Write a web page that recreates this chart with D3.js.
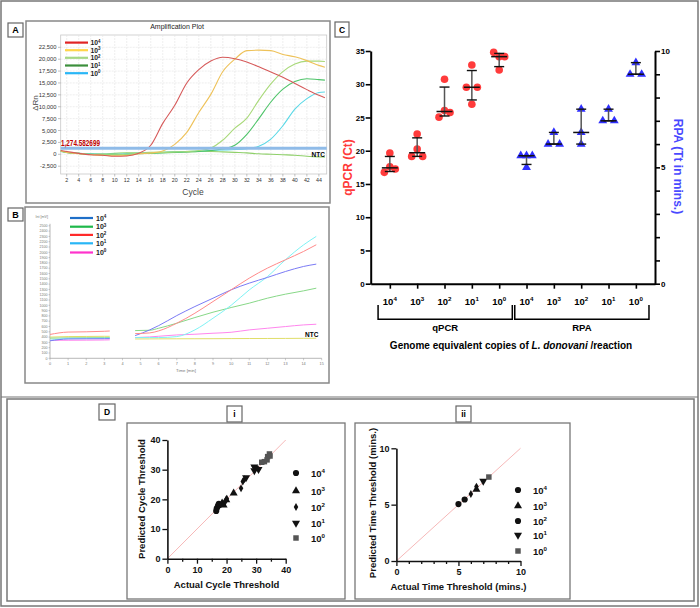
<!DOCTYPE html>
<html><head><meta charset="utf-8">
<script src="https://cdn.jsdelivr.net/npm/d3@7"></script>
<style>body{margin:0;background:#fff}svg{display:block}text{font-family:Arial,"Liberation Sans",sans-serif}</style>
</head><body><svg id="c" width="700" height="608"></svg>
<script>
// ---------- DATA ----------
// Panel A: amplification plot (ΔRn by cycle)
const ampCycles = [1,2,4,6,8,10,12,14,16,18,20,22,24,26,28,30,32,34,36,38,40,42,44,45];
const amp10e4 = [800,600,200,-100,-200,-400,-350,200,1900,6500,10300,15000,17800,19600,20400,20100,19400,18400,17300,16200,14900,13600,12400,11900];
const amp10e3 = [700,400,100,-100,-200,-300,-250,100,300,700,2100,4600,8800,12600,17400,20000,21800,21900,21800,21000,20500,19700,18700,18300];
const amp10e2 = [600,400,200,0,-100,-100,0,200,300,400,500,600,800,1300,3000,5500,7600,11400,14800,17400,19000,19600,19600,19500];
const amp10e1 = [700,400,200,0,-100,-100,0,100,200,300,400,500,600,800,1100,1900,4200,7500,11000,13700,15300,15900,15700,15600];
const amp10e0 = [600,400,200,100,0,0,100,200,300,400,500,600,700,800,900,1000,1200,1700,3200,6000,9500,11700,13000,13100];
const ampNTC  = [700,400,200,100,100,200,300,300,400,400,500,500,600,600,500,400,300,100,0,-100,-200,-400,-550,-600];
const ampThreshold = 1274.582699;
const ampYTicks = [-2500,0,2500,5000,7500,10000,12500,15000,17500,20000,22500];
const ampXTicks = [2,4,6,8,10,12,14,16,18,20,22,24,26,28,30,32,34,36,38,40,42,44];
const legendExps = ['4','3','2','1','0'];

// Panel B: RPA fluorescence (mV by minute); null = gap while tube is shaken
const rpaTimes   = [0,1,2,3,3.3,4,4.7,5.5,6,7,8,9,10,11,12,13,14,14.7];
const rpa10e4 = [330,365,368,370,372,null,428,535,617,806,977,1134,1292,1418,1525,1638,1733,1777];
const rpa10e3 = [380,385,388,390,392,null,523,529,567,662,769,870,958,1040,1134,1210,1273,1323];
const rpa10e2 = [450,495,500,510,515,null,466,479,517,662,851,1071,1292,1512,1701,1859,2016,2142];
const rpa10e1 = [340,375,378,380,382,null,391,391,391,410,536,756,1000,1290,1540,1860,2140,2300];
const rpa10e0 = [340,340,342,345,348,null,391,403,416,441,454,473,491,536,567,599,630,643];
const rpaNTC  = [400,410,412,415,415,null,365,366,367,368,369,370,372,373,374,375,377,378];

// Panel C: qPCR Ct and RPA Tt replicates per dilution
const copyExps = ['4','3','2','1','0'];
const methods = ['qPCR','RPA'];
const qpcrCt = [[16.75,19.65,17.6,17.25],[19.15,22.5,20.25,19.15],[25.05,30.75,26.05,25.75],[29.55,32.9,27.0,29.55],[34.8,34.15,32.15,34.15]];
const rpaTt  = [[5.5,5.5,5.5,5.0],[6.0,6.5,6.0],[7.5,6.5,6.0],[7.0,7.5,7.0],[9.0,9.5,9.0]];
const ctTicks = [0,5,10,15,20,25,30,35];

// Panel D i: actual vs predicted cycle threshold
const cycActual = [[16.5,16.7,17.1,17.4,17.6],[18.5,19.0,19.9,22.4],[19.6,20.1,24.9,25.5,26.1],[26.6,29.4,29.4,29.7,30.8],[31.9,32.8,33.7,33.9,34.5,34.7]];
const cycPred   = [[16.1,17.0,17.8,18.5,18.1],[18.7,18.0,19.8,22.1],[19.3,20.2,23.7,26.0,26.8],[27.3,31.0,29.7,30.5,30.1],[32.5,32.7,33.3,34.4,35.3,34.6]];
// Panel D ii: actual vs predicted time threshold
const ttActual = [[5.0,5.5],[6.45],[6.0,6.45],[7.0],[7.45]];
const ttPred   = [[5.05,5.46],[6.35],[5.95,6.6],[7.1],[7.45]];

// ---------- HELPERS ----------
const svg = d3.select('#c');
function pow(sel, x, y, exp, size, anchor, family, fill){
  const t = sel.append('text').attr('x',x).attr('y',y).attr('text-anchor',anchor||'middle')
    .attr('font-size',size).attr('font-weight','bold').attr('fill',fill||'#000');
  if(family) t.attr('font-family',family);
  t.append('tspan').text('10');
  t.append('tspan').attr('dy',-size*0.38).attr('font-size',size*0.65).text(exp);
  return t;
}
function box(x,y,w,h,stroke,sw){
  svg.append('rect').attr('x',x).attr('y',y).attr('width',w).attr('height',h)
    .attr('fill','none').attr('stroke',stroke||'#777').attr('stroke-width',sw||1.5);
}
function labelBox(x,y,w,h,t,size){
  svg.append('rect').attr('x',x).attr('y',y).attr('width',w).attr('height',h)
    .attr('fill','#fff').attr('stroke','#666').attr('stroke-width',1.2);
  svg.append('text').attr('x',x+w/2).attr('y',y+h/2).attr('dy','0.36em').attr('text-anchor','middle')
    .attr('font-size',size||9).attr('font-weight','bold').text(t);
}
function quant(arr,p){
  const s=[...arr].sort((a,b)=>a-b), n=s.length, pos=(n+1)*p;
  if(pos<=1) return s[0]; if(pos>=n) return s[n-1];
  const lo=Math.floor(pos); return s[lo-1]+(pos-lo)*(s[lo]-s[lo-1]);
}

// ---------- FRAMES ----------
box(1,1,697,605,'#777',1.5);
svg.append('line').attr('x1',1).attr('x2',698).attr('y1',397).attr('y2',397).attr('stroke','#777').attr('stroke-width',1.2);

// ---------- PANEL A ----------
box(26,21,304,182,'#888',1.5);
labelBox(8,23,15,14,'A',9);
const narrow = '"Liberation Sans Narrow","Arial Narrow",Arial,sans-serif';
const A = svg.append('g').attr('font-family',narrow);
const ax = d3.scaleLinear().domain([1,45.3]).range([60.7,326.7]);
const ay = d3.scaleLinear().domain([0,22500]).range([154.3,47.3]);
A.append('text').attr('x',177).attr('y',29).attr('text-anchor','middle').attr('font-size',7).attr('fill','#222').text('Amplification Plot');
A.append('rect').attr('x',60.7).attr('y',35).attr('width',266).attr('height',139).attr('fill','#fff').attr('stroke','#c8c8c8').attr('stroke-width',0.8);
A.selectAll('.vg').data(ampXTicks).join('line').attr('x1',d=>ax(d)).attr('x2',d=>ax(d)).attr('y1',35).attr('y2',174)
  .attr('stroke','#e2e2e2').attr('stroke-width',0.6).attr('stroke-dasharray','2,1');
A.selectAll('.hg').data(ampYTicks).join('line').attr('x1',60.7).attr('x2',326.7).attr('y1',d=>ay(d)).attr('y2',d=>ay(d))
  .attr('stroke','#e2e2e2').attr('stroke-width',0.6).attr('stroke-dasharray','2,1');
A.selectAll('.yt').data(ampYTicks).join('text').attr('x',56.5).attr('y',d=>ay(d)).attr('dy','0.35em').attr('text-anchor','end')
  .attr('font-size',5.8).attr('fill','#333').text(d=>(d<0?'-':'')+d3.format(',')(Math.abs(d)));
A.selectAll('.ytk').data(ampYTicks).join('line').attr('x1',58).attr('x2',60.7).attr('y1',d=>ay(d)).attr('y2',d=>ay(d)).attr('stroke','#999').attr('stroke-width',0.6);
A.selectAll('.xt').data(ampXTicks).join('text').attr('x',d=>ax(d)).attr('y',182).attr('text-anchor','middle')
  .attr('font-size',5.3).attr('fill','#333').text(d=>d);
A.selectAll('.xtk').data(ampXTicks).join('line').attr('x1',d=>ax(d)).attr('x2',d=>ax(d)).attr('y1',174).attr('y2',176.5).attr('stroke','#999').attr('stroke-width',0.6);
A.append('text').attr('x',193).attr('y',195).attr('text-anchor','middle').attr('font-size',8.5).attr('fill','#444').text('Cycle');
A.append('text').attr('transform','translate(38,103) rotate(-90)').attr('text-anchor','middle').attr('font-size',8).attr('fill','#444').text('ΔRn');
const ampLine = d3.line().x((d,i)=>ax(ampCycles[i])).y(d=>ay(d)).curve(d3.curveMonotoneX);
const ampSeries = [[ampNTC,'#8fd06a'],[amp10e0,'#5ad8e6'],[amp10e1,'#4fc46a'],[amp10e2,'#a9d97a'],[amp10e3,'#eec25a'],[amp10e4,'#d65a5a']];
ampSeries.forEach(([vals,col])=>A.append('path').attr('d',ampLine(vals)).attr('fill','none').attr('stroke',col).attr('stroke-width',1.1));
A.append('line').attr('x1',60.7).attr('x2',326.7).attr('y1',ay(ampThreshold)).attr('y2',ay(ampThreshold)).attr('stroke','#8fbbe8').attr('stroke-width',3);
A.append('text').attr('x',61).attr('y',ay(ampThreshold)-2.5).attr('font-family','"Liberation Serif","Times New Roman",serif')
  .attr('font-size',9).attr('font-weight','bold').attr('fill','#c00000').attr('textLength',39).attr('lengthAdjust','spacingAndGlyphs')
  .text(d3.format(',.6f')(ampThreshold));
A.append('text').attr('x',311.5).attr('y',156.5).attr('font-size',6.5).attr('font-weight','bold').attr('font-family','Arial,sans-serif').text('NTC');
const ampLegCols = ['#e02424','#ffd54a','#a6d785','#3c8f3c','#29b6f6'];
const ampLegY = [42.6,50.2,57.8,65.5,73.2];
legendExps.forEach((e,i)=>{
  A.append('line').attr('x1',65).attr('x2',88).attr('y1',ampLegY[i]).attr('y2',ampLegY[i]).attr('stroke',ampLegCols[i]).attr('stroke-width',2.2);
  pow(A,90.5,ampLegY[i]+2.6,e,6.8,'start','Arial,sans-serif','#222');
});

// ---------- PANEL B ----------
box(25,207,304,176,'#888',1.5);
labelBox(8,208,15,13,'B',9);
const B = svg.append('g');
const bx = d3.scaleLinear().domain([0,15]).range([50,321.7]);
const by = d3.scaleLinear().domain([0,2500]).range([358.3,225.8]);
B.append('line').attr('x1',50).attr('x2',50).attr('y1',by(0)).attr('y2',by(2500)-2).attr('stroke','#999').attr('stroke-width',0.7);
B.append('line').attr('x1',50).attr('x2',bx(15)).attr('y1',by(0)).attr('y2',by(0)).attr('stroke','#999').attr('stroke-width',0.7);
const bYT = d3.range(0,2501,100);
B.selectAll('.byt').data(bYT).join('line').attr('x1',48.5).attr('x2',50).attr('y1',d=>by(d)).attr('y2',d=>by(d)).attr('stroke','#999').attr('stroke-width',0.5);
B.selectAll('.byl').data(bYT).join('text').attr('x',47.5).attr('y',d=>by(d)).attr('dy','0.35em').attr('text-anchor','end')
  .attr('font-size',3.6).attr('fill','#777').text(d=>d);
const bXT = d3.range(0,16,1);
B.selectAll('.bxt').data(bXT).join('line').attr('x1',d=>bx(d)).attr('x2',d=>bx(d)).attr('y1',by(0)).attr('y2',by(0)+2).attr('stroke','#999').attr('stroke-width',0.5);
B.selectAll('.bxl').data(bXT).join('text').attr('x',d=>bx(d)).attr('y',365).attr('text-anchor','middle')
  .attr('font-size',3.8).attr('fill','#777').text(d=>d);
B.append('text').attr('x',186).attr('y',372).attr('text-anchor','middle').attr('font-size',4.3).attr('fill','#777').text('Time [min]');
B.append('text').attr('x',48).attr('y',218).attr('text-anchor','end').attr('font-size',3.6).attr('fill','#777').text('Int [mV]');
const rpaLine = d3.line().defined(d=>d!=null).x((d,i)=>bx(rpaTimes[i])).y(d=>by(d)).curve(d3.curveMonotoneX);
const rpaSeries = [[rpaNTC,'#e0de6a'],[rpa10e0,'#ff86ee'],[rpa10e3,'#88d888'],[rpa10e1,'#7ff3f5'],[rpa10e4,'#7b7bf5'],[rpa10e2,'#ff8a8a']];
rpaSeries.forEach(([vals,col])=>B.append('path').attr('d',rpaLine(vals)).attr('fill','none').attr('stroke',col).attr('stroke-width',1));
B.append('text').attr('x',305).attr('y',337).attr('font-size',6.5).attr('font-weight','bold').text('NTC');
const rpaLegCols = ['#1f6fc8','#1fb84a','#ff2a2a','#29b6f6','#ff33cc'];
const rpaLegY = [218,226.7,234.9,243.3,252.5];
legendExps.forEach((e,i)=>{
  B.append('line').attr('x1',70).attr('x2',93).attr('y1',rpaLegY[i]).attr('y2',rpaLegY[i]).attr('stroke',rpaLegCols[i]).attr('stroke-width',2.2);
  pow(B,96,rpaLegY[i]+2.6,e,7,'start','Arial,sans-serif','#222');
});

// ---------- PANEL C ----------
labelBox(335,22,14,15,'C',8.5);
const C = svg.append('g');
const keys = methods.flatMap(m=>copyExps.map(c=>m+c));
const cx = d3.scalePoint().domain(keys).range([370.7,655]).padding(0.7);
const yL = d3.scaleLinear().domain([0,35]).range([283.7,51]);
const yR = d3.scaleLinear().domain([0,10]).range([283.7,51]);
const axL = C.append('g').attr('transform','translate(370.7,0)').call(d3.axisLeft(yL).tickValues(ctTicks).tickSize(5).tickSizeOuter(0));
const axR = C.append('g').attr('transform','translate(655,0)').call(d3.axisRight(yR).tickValues(d3.range(0,11)).tickFormat(d=>d%5===0?d:'').tickSize(5).tickSizeOuter(0));
const axB = C.append('g').attr('transform','translate(0,283.7)').call(d3.axisBottom(cx).tickFormat('').tickSize(5).tickSizeOuter(0));
[axL,axR,axB].forEach(g=>{
  g.select('.domain').attr('stroke','#000').attr('stroke-width',2);
  g.selectAll('.tick line').attr('stroke','#000').attr('stroke-width',1.6);
  g.selectAll('.tick text').attr('font-size',8).attr('font-weight','bold').attr('fill','#000').attr('font-family','Arial,sans-serif');
});
axL.selectAll('.tick text').attr('x',-6);
axR.selectAll('.tick text').attr('x',6);
const lato = 'Lato,"Open Sans",Arial,sans-serif';
keys.forEach((k,i)=>pow(C,cx(k),305,copyExps[i%5],9.5,'middle',lato));
// brackets
methods.forEach((m,mi)=>{
  const x0 = cx(m+copyExps[0])-cx.step()*0.43, x1 = cx(m+copyExps[4])+cx.step()*0.48;
  C.append('path').attr('d',`M${x0},305V319.3H${x1}V305`).attr('fill','none').attr('stroke','#000').attr('stroke-width',1.5);
  C.append('text').attr('x',(x0+x1)/2).attr('y',331).attr('text-anchor','middle').attr('font-size',9.5).attr('font-weight','bold').attr('font-family',lato).text(m);
});
const gl = C.append('text').attr('x',511).attr('y',349).attr('text-anchor','middle').attr('font-size',10).attr('font-weight','bold').attr('font-family',lato);
gl.append('tspan').text('Genome equivalent copies of ');
gl.append('tspan').attr('font-style','italic').text('L. donovani');
gl.append('tspan').text(' /reaction');
C.append('text').attr('transform','translate(348,167.5) rotate(-90)').attr('text-anchor','middle').attr('dy','0.35em')
  .attr('font-size',12).attr('font-weight','bold').attr('fill','#ff3b3b').text('qPCR (Ct)');
C.append('text').attr('transform','translate(678,166.5) rotate(90)').attr('text-anchor','middle').attr('dy','0.35em')
  .attr('font-size',12).attr('font-weight','bold').attr('fill','#4a4aff').text('RPA (Tt in mins.)');
const qSlots = [-1,0,0,1];
const rSlots = [[-1,0,1,0],[-1,0,1],[0,0,0],[-1,0,1],[-1,0,1]];
const jit = 5.5;
function summary(vals, xc, yScale){
  const med=quant(vals,0.5), lo=quant(vals,0.25), hi=quant(vals,0.75);
  C.append('line').attr('x1',xc).attr('x2',xc).attr('y1',yScale(lo)).attr('y2',yScale(hi)).attr('stroke','#555').attr('stroke-width',1.5);
  [lo,hi].forEach(v=>C.append('line').attr('x1',xc-5).attr('x2',xc+5).attr('y1',yScale(v)).attr('y2',yScale(v)).attr('stroke','#111').attr('stroke-width',1.4));
  C.append('line').attr('x1',xc-8).attr('x2',xc+8).attr('y1',yScale(med)).attr('y2',yScale(med)).attr('stroke','#111').attr('stroke-width',1.5);
}
qpcrCt.forEach((vals,gi)=>{
  const xc = cx('qPCR'+copyExps[gi]);
  vals.forEach((v,j)=>C.append('circle').attr('cx',xc+qSlots[j]*jit).attr('cy',yL(v)).attr('r',3.8).attr('fill','#ff3b3b'));
  summary(vals,xc,yL);
});
const tri = d3.symbol().type(d3.symbolTriangle).size(34);
rpaTt.forEach((vals,gi)=>{
  const xc = cx('RPA'+copyExps[gi]);
  vals.forEach((v,j)=>C.append('path').attr('d',tri()).attr('transform',`translate(${xc+rSlots[gi][j]*jit*1.05},${yR(v)})`).attr('fill','#2f2fff'));
  summary(vals,xc,yR);
});

// ---------- PANEL D ----------
box(7,399,687,202,'#777',1.5);
labelBox(99,404,16,16,'D',8.5);
labelBox(227,406,15,16,'i',8.5);
labelBox(456,406,15,16,'ii',8.5);
box(127,423,218,176,'#777',1.3);
box(355,423,215,176,'#777',1.3);
const symTypes = [d3.symbolCircle,d3.symbolTriangle,d3.symbolDiamond,'inv',d3.symbolSquare];
const symSizes = [30,28,18,28,30];
function marker(g,x,y,k,fill){
  const t = symTypes[k]==='inv'?d3.symbolTriangle:symTypes[k];
  g.append('path').attr('d',d3.symbol().type(t).size(symSizes[k])())
    .attr('transform',`translate(${x},${y})`+(symTypes[k]==='inv'?' rotate(180)':'')).attr('fill',fill||'#111');
}
function scatterPanel(cfg){
  const g = svg.append('g');
  const x = d3.scaleLinear().domain([0,cfg.max]).range(cfg.xr);
  const y = d3.scaleLinear().domain([0,cfg.max]).range(cfg.yr);
  g.append('line').attr('x1',x(0)).attr('y1',y(0)).attr('x2',x(cfg.max)).attr('y2',y(cfg.max)).attr('stroke','#f29a9a').attr('stroke-width',0.7);
  const xa = g.append('g').attr('transform',`translate(0,${cfg.yr[0]})`).call(d3.axisBottom(x).tickValues(cfg.xMinor).tickFormat(d=>cfg.major.includes(d)?d:'').tickSize(3).tickSizeOuter(0));
  const ya = g.append('g').attr('transform',`translate(${cfg.xr[0]},0)`).call(d3.axisLeft(y).tickValues(cfg.yMinor).tickFormat(d=>cfg.major.includes(d)?d:'').tickSize(3).tickSizeOuter(0));
  [xa,ya].forEach(a=>{
    a.select('.domain').attr('stroke','#111').attr('stroke-width',1.6);
    a.selectAll('.tick line').attr('stroke','#111').attr('stroke-width',1.3);
    a.selectAll('.tick text').attr('font-size',9).attr('font-weight','bold').attr('fill','#111');
  });
  xa.selectAll('.tick').filter(d=>cfg.major.includes(d)).select('line').attr('y2',5);
  ya.selectAll('.tick').filter(d=>cfg.major.includes(d)).select('line').attr('x2',-5);
  xa.selectAll('.tick text').attr('y',8);
  ya.selectAll('.tick text').attr('x',-7);
  g.append('text').attr('x',(cfg.xr[0]+cfg.xr[1])/2+cfg.xlDx).attr('y',cfg.yr[0]+29).attr('text-anchor','middle').attr('font-size',9.5).attr('font-weight','bold').attr('fill','#111').text(cfg.xLabel);
  g.append('text').attr('transform',`translate(${cfg.ylX},${cfg.ylY}) rotate(-90)`).attr('text-anchor','middle').attr('font-size',9.5).attr('font-weight','bold').attr('fill','#111').text(cfg.yLabel);
  cfg.ax.forEach((arr,k)=>arr.forEach((v,j)=>marker(g,x(v),y(cfg.pr[k][j]),k,k===4?'#555':'#111')));
  legendExps.forEach((e,k)=>{
    marker(g,cfg.legX,cfg.legY[k],cfg.legSym[k],k===4?'#555':'#111');
    pow(g,cfg.legX+15,cfg.legY[k]+3.5,e,9.5,'start','Arial,sans-serif','#111');
  });
}
scatterPanel({max:40,xr:[167.4,285.7],yr:[558.7,440],major:[0,10,20,30,40],xMinor:d3.range(0,41,5),yMinor:[0,10,20,30,40],
  xLabel:'Actual Cycle Threshold',yLabel:'Predicted Cycle Threshold',xlDx:0,ylX:145,ylY:499,
  ax:cycActual,pr:cycPred,legX:296,legY:[473,491,507,523,538],legSym:[0,1,2,3,4]});
scatterPanel({max:10,xr:[396.4,520.5],yr:[561,448.3],major:[0,5,10],xMinor:d3.range(0,11,1),yMinor:[0,5,10],
  xLabel:'Actual Time Threshold (mins.)',yLabel:'Predicted Time Threshold (mins.)',xlDx:0,ylX:376,ylY:503,
  ax:ttActual,pr:ttPred,legX:518,legY:[490,506,521,535,551],legSym:[0,1,0,3,4]});
</script></body></html>
